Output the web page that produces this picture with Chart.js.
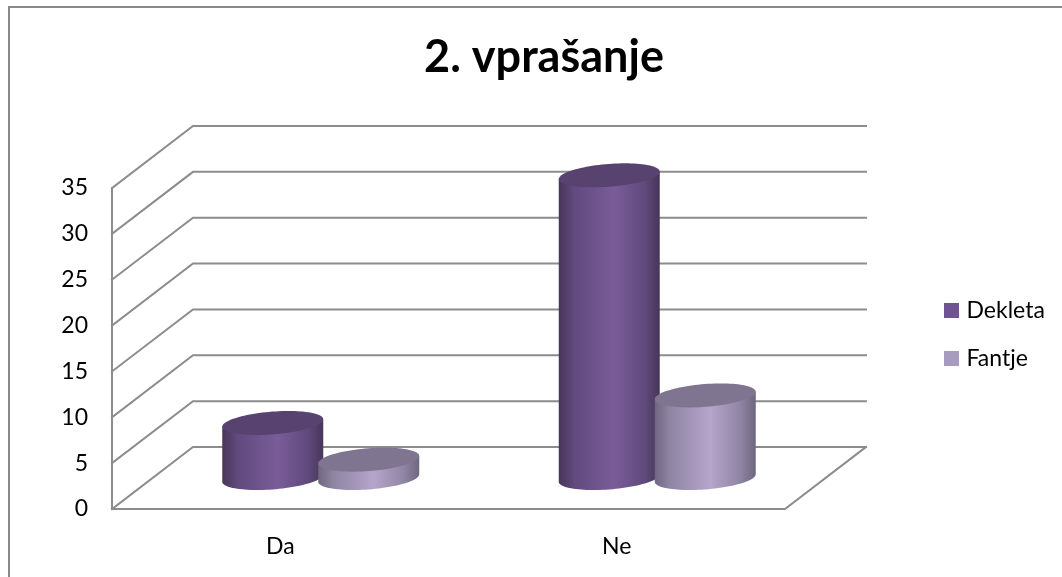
<!DOCTYPE html>
<html><head><meta charset="utf-8">
<style>
html,body{margin:0;padding:0;background:#fff;width:1062px;height:577px;overflow:hidden}
#wrap{position:relative;width:1062px;height:577px}
#frame{position:absolute;left:8px;top:6px;width:1060px;height:580px;border:2px solid #8a8a8a;box-sizing:border-box}
canvas{position:absolute;left:0;top:0}
</style>
<script src="https://cdn.jsdelivr.net/npm/chart.js@4"></script>
</head><body><div id="wrap"><div id="frame"></div><canvas id="c" width="1062" height="577"></canvas></div>
<script>
const chartTitle = '2. vprašanje';
const categories = ['Da', 'Ne'];
const dekleta = [6, 33];
const fantje = [2, 9];
const yTicks = [0, 5, 10, 15, 20, 25, 30, 35];
const seriesNames = ['Dekleta', 'Fantje'];

const FONT = 'Lato, Carlito, Calibri, sans-serif';
const GRID = '#8c8c8c';
const DEPTH = {x: 81, y: -62};
const looks = [
  {legend:'#6f5491', top:'#584370', stops:[[0,'#463659'],[.15,'#604a7e'],[.55,'#7a5c98'],[.85,'#5f4a7c'],[1,'#463659']]},
  {legend:'#a99abf', top:'#807590', stops:[[0,'#6f6680'],[.15,'#8f85a3'],[.55,'#b5a5cb'],[.85,'#8f85a3'],[1,'#6f6680']]}
];

const scene3d = {
  id:'scene3d',
  beforeUpdate(chart){
    const lg = chart.legend;
    if(!lg._wrapped){
      const fit = lg.fit;
      lg.fit = function(){ fit.call(this); this.width = 277; };
      lg._wrapped = true;
    }
  },
  afterLayout(chart){
    chart.legend.left = 923;
    chart.legend.top += 46; chart.legend.bottom += 46;
    chart.titleBlock.left += 13; chart.titleBlock.right += 13;
  },
  beforeDatasetsDraw(chart){
    const ctx = chart.ctx, y = chart.scales.y, a = chart.chartArea;
    ctx.save();
    ctx.strokeStyle = GRID; ctx.lineCap='square';
    ctx.lineWidth = 2;
    const dx = DEPTH.x, dy = DEPTH.y;
    ctx.beginPath();
    yTicks.forEach(v=>{
      const p = y.getPixelForValue(v);
      ctx.moveTo(a.left,p); ctx.lineTo(a.left+dx,p+dy); ctx.lineTo(a.right+dx,p+dy);
    });
    ctx.moveTo(a.left,y.getPixelForValue(35)); ctx.lineTo(a.left,a.bottom); ctx.lineTo(a.right,a.bottom);
    ctx.lineTo(a.right+dx,a.bottom+dy);
    ctx.stroke();
    ctx.restore();
  },
  afterDatasetsDraw(chart){
    const ctx = chart.ctx;
    categories.forEach((_,ci)=>{
      chart.data.datasets.forEach((ds,di)=>{
        const b = chart.getDatasetMeta(di).data[ci];
        cylinder(ctx, b.x + DEPTH.x/2, b.y + DEPTH.y/2, b.base + DEPTH.y/2, b.width/2, looks[di]);
      });
    });
  }
};

function cylinder(ctx, cx, yTop, yBase, a, look){
  const ry = 12, sx = ry*DEPTH.x/-DEPTH.y;
  const P = (t,cy)=>[cx + a*Math.cos(t) + sx*Math.sin(t), cy - ry*Math.sin(t)];
  const t0 = Math.atan2(sx,a);
  const halfW = Math.hypot(a,sx);
  const g = ctx.createLinearGradient(cx-halfW,0,cx+halfW,0);
  look.stops.forEach(s=>g.addColorStop(s[0],s[1]));
  const N = 48;
  ctx.save();
  ctx.beginPath();
  let p = P(t0+Math.PI,yTop); ctx.moveTo(p[0],p[1]);
  for(let i=0;i<=N;i++){ p = P(t0+Math.PI+Math.PI*i/N,yBase); ctx.lineTo(p[0],p[1]); }
  p = P(t0,yTop); ctx.lineTo(p[0],p[1]);
  ctx.closePath(); ctx.fillStyle = g; ctx.fill();
  ctx.beginPath();
  for(let i=0;i<=2*N;i++){ p = P(Math.PI*i/N,yTop); i?ctx.lineTo(p[0],p[1]):ctx.moveTo(p[0],p[1]); }
  ctx.closePath(); ctx.fillStyle = look.top; ctx.fill();
  ctx.restore();
}

new Chart(document.getElementById('c'),{
  type:'bar',
  data:{labels:categories,datasets:[
    {label:seriesNames[0],data:dekleta,backgroundColor:'rgba(0,0,0,0)',borderWidth:0},
    {label:seriesNames[1],data:fantje,backgroundColor:'rgba(0,0,0,0)',borderWidth:0}
  ]},
  options:{
    responsive:false,animation:false,
    layout:{padding:{left:0,right:0,top:0,bottom:0}},
    datasets:{bar:{categoryPercentage:0.5706,barPercentage:1}},
    plugins:{
      tooltip:{enabled:false},
      title:{display:true,text:chartTitle,color:'#000',font:{family:FONT,size:45,weight:'bold'},padding:{top:30,bottom:104}},
      legend:{position:'right',labels:{
        color:'#000',font:{family:FONT,size:23},usePointStyle:true,boxWidth:7,boxHeight:15,padding:25,
        generateLabels(chart){return chart.data.datasets.map((d,i)=>({text:d.label,fillStyle:looks[i].legend,strokeStyle:looks[i].legend,lineWidth:0,datasetIndex:i,pointStyle:'rect'}));}
      }}
    },
    scales:{
      x:{grid:{display:false},border:{display:false},
        afterFit(s){s.height=68;},
        ticks:{color:'#000',font:{family:FONT,size:23},padding:16,maxRotation:0}},
      y:{min:0,max:35,grid:{display:false,drawTicks:false},border:{display:false},
        afterFit(s){s.width=112;},
        afterBuildTicks(s){s.ticks=yTicks.map(v=>({value:v}));},
        ticks:{color:'#000',font:{family:FONT,size:23},padding:24}}
    }
  },
  plugins:[scene3d]
});
</script></body></html>
